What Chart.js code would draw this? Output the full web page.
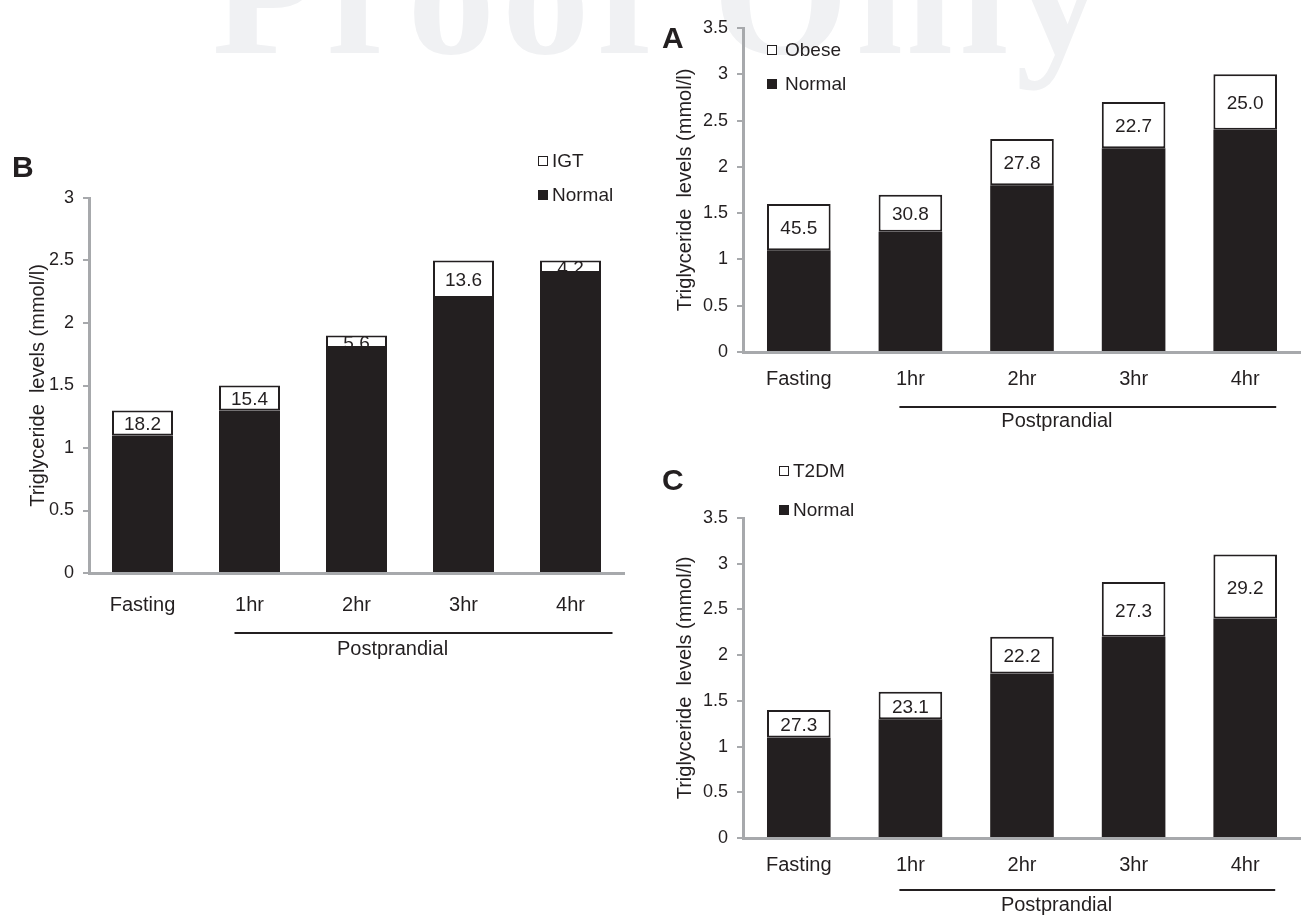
<!DOCTYPE html>
<html>
<head>
<meta charset="utf-8">
<script src="https://cdn.jsdelivr.net/npm/chart.js@4.4.1/dist/chart.umd.min.js"></script>
<style>
  html, body { margin: 0; padding: 0; background: #fff; }
  body {
    width: 1301px; height: 917px; position: relative; overflow: hidden;
    font-family: "Liberation Sans", Arial, sans-serif; color: #231f20;
  }
  .watermark {
    position: absolute; left: 212px; top: -93px;
    font-family: "Liberation Serif", "Times New Roman", serif; font-weight: bold;
    font-size: 175px; line-height: 1; letter-spacing: 7px;
    color: #f0f1f3; white-space: nowrap;
  }
  canvas { position: absolute; }
  .panel-letter { position: absolute; font-weight: bold; font-size: 30px; line-height: 30px; }
  .legend-row {
    position: absolute; display: flex; align-items: center;
    font-size: 19px; height: 22px; line-height: 22px; white-space: nowrap;
  }
  .sw { display: inline-block; width: 10px; height: 10px; box-sizing: border-box; }
  .sw.open { border: 1.5px solid #231f20; background: #fff; }
  .sw.fill { background: #231f20; }
</style>
</head>
<body>
<div class="watermark">Proof Only</div>

<canvas id="chartB" width="650" height="530" style="left:0;top:140px"></canvas>
<canvas id="chartA" width="651" height="440" style="left:650px;top:0"></canvas>
<canvas id="chartC" width="651" height="457" style="left:650px;top:460px"></canvas>

<div class="panel-letter" style="left:12px;top:152px">B</div>
<div class="panel-letter" style="left:662px;top:23px">A</div>
<div class="panel-letter" style="left:662px;top:465px">C</div>

<div class="legend-row" style="left:538px;top:150px"><span class="sw open"></span><span style="margin-left:4px">IGT</span></div>
<div class="legend-row" style="left:538px;top:184px"><span class="sw fill"></span><span style="margin-left:4px">Normal</span></div>

<div class="legend-row" style="left:767px;top:39px"><span class="sw open"></span><span style="margin-left:8px">Obese</span></div>
<div class="legend-row" style="left:767px;top:73px"><span class="sw fill"></span><span style="margin-left:8px">Normal</span></div>

<div class="legend-row" style="left:779px;top:460px"><span class="sw open"></span><span style="margin-left:4px">T2DM</span></div>
<div class="legend-row" style="left:779px;top:499px"><span class="sw fill"></span><span style="margin-left:4px">Normal</span></div>

<script>
// categories shared by all three panels
const categories = ['Fasting', '1hr', '2hr', '3hr', '4hr'];
const yTitle = 'Triglyceride  levels (mmol/l)';

// B - IGT vs normal
const yTicksB = [0, 0.5, 1, 1.5, 2, 2.5, 3];
const normalB = [1.1, 1.3, 1.8, 2.2, 2.4];
const igtExtraB = [0.2, 0.2, 0.1, 0.3, 0.1];
const igtPctB = ['18.2', '15.4', '5.6', '13.6', '4.2'];

// A - obese vs normal
const yTicksA = [0, 0.5, 1, 1.5, 2, 2.5, 3, 3.5];
const normalA = [1.1, 1.3, 1.8, 2.2, 2.4];
const obeseExtraA = [0.5, 0.4, 0.5, 0.5, 0.6];
const obesePctA = ['45.5', '30.8', '27.8', '22.7', '25.0'];

// C - T2DM vs normal
const yTicksC = [0, 0.5, 1, 1.5, 2, 2.5, 3, 3.5];
const normalC = [1.1, 1.3, 1.8, 2.2, 2.4];
const t2dmExtraC = [0.3, 0.3, 0.4, 0.6, 0.7];
const t2dmPctC = ['27.3', '23.1', '22.2', '27.3', '29.2'];

const INK = '#231f20';
const AXIS = '#a7a9ac';
const FONT = "'Liberation Sans', Arial, sans-serif";

// percent labels centred in the white segment, clipped to it
function segmentLabels(pcts) {
  return {
    id: 'segmentLabels',
    afterDatasetsDraw(chart) {
      const ctx = chart.ctx;
      const meta = chart.getDatasetMeta(1);
      ctx.save();
      ctx.font = '19px ' + FONT;
      ctx.fillStyle = INK;
      ctx.textAlign = 'center';
      ctx.textBaseline = 'middle';
      meta.data.forEach((bar, i) => {
        const p = bar.getProps(['x', 'y', 'base', 'width'], true);
        ctx.save();
        ctx.beginPath();
        ctx.rect(p.x - p.width / 2, p.y, p.width, p.base - p.y);
        ctx.clip();
        ctx.fillText(pcts[i], p.x, (p.y + p.base) / 2 + 2);
        ctx.restore();
      });
      ctx.restore();
    }
  };
}

// "Postprandial" bracket under 1hr..4hr
function postprandial(b) {
  return {
    id: 'postprandial',
    afterDraw(chart) {
      const ctx = chart.ctx;
      const xs = chart.scales.x;
      const x0 = xs.getPixelForValue(1) - b.padL;
      const x1 = xs.getPixelForValue(4) + b.padR;
      const y = chart.chartArea.bottom + b.dy;
      ctx.save();
      ctx.strokeStyle = INK;
      ctx.lineWidth = 2;
      ctx.beginPath();
      ctx.moveTo(x0, y);
      ctx.lineTo(x1, y);
      ctx.stroke();
      ctx.font = '20px ' + FONT;
      ctx.fillStyle = INK;
      ctx.textAlign = 'center';
      ctx.textBaseline = 'middle';
      ctx.fillText('Postprandial', x0 + (x1 - x0) * 0.418, y + b.textDy);
      ctx.restore();
    }
  };
}

function buildPanel(canvasId, p) {
  new Chart(document.getElementById(canvasId), {
    type: 'bar',
    data: {
      labels: categories,
      datasets: [
        {
          label: 'Normal', data: p.normal,
          backgroundColor: INK, borderWidth: 0,
          barPercentage: 0.57, categoryPercentage: 1
        },
        {
          label: p.group, data: p.extra,
          backgroundColor: '#fff', borderColor: INK, borderWidth: 2, borderSkipped: false,
          barPercentage: 0.57, categoryPercentage: 1
        }
      ]
    },
    options: {
      responsive: false,
      animation: false,
      events: [],
      layout: { padding: { left: 0, right: p.padRight, top: p.padTop, bottom: 0 } },
      plugins: { legend: { display: false }, tooltip: { enabled: false } },
      scales: {
        x: {
          stacked: true,
          grid: { display: false, drawTicks: false },
          border: { display: true, color: AXIS, width: 3 },
          ticks: { color: INK, font: { family: FONT, size: 20 }, padding: p.xPad, maxRotation: 0 },
          afterFit: s => { s.height = p.xHeight; }
        },
        y: {
          stacked: true,
          min: 0,
          max: p.yTicks[p.yTicks.length - 1],
          afterBuildTicks: s => { s.ticks = p.yTicks.map(v => ({ value: v })); },
          grid: { display: true, drawOnChartArea: false, drawTicks: true, tickLength: 6, color: AXIS, lineWidth: 2 },
          border: { display: true, color: AXIS, width: 3 },
          ticks: { color: INK, font: { family: FONT, size: 18 }, padding: 9, callback: v => String(v) },
          title: {
            display: true, text: yTitle, color: INK,
            font: { family: FONT, size: 20 },
            padding: { top: p.titlePad, bottom: 0 }
          },
          afterFit: s => { s.width = p.yWidth; }
        }
      }
    },
    plugins: [segmentLabels(p.pcts), postprandial(p.bracket)]
  });
}

buildPanel('chartB', {
  normal: normalB, extra: igtExtraB, pcts: igtPctB, group: 'IGT', yTicks: yTicksB,
  padTop: 58, padRight: 26, yWidth: 89, xHeight: 97, xPad: 20, titlePad: 26,
  bracket: { padL: 15, padR: 42, dy: 60, textDy: 16 }
});

buildPanel('chartA', {
  normal: normalA, extra: obeseExtraA, pcts: obesePctA, group: 'Obese', yTicks: yTicksA,
  padTop: 28, padRight: 0, yWidth: 93, xHeight: 88, xPad: 15, titlePad: 23,
  bracket: { padL: 11, padR: 31, dy: 55, textDy: 14 }
});

buildPanel('chartC', {
  normal: normalC, extra: t2dmExtraC, pcts: t2dmPctC, group: 'T2DM', yTicks: yTicksC,
  padTop: 58, padRight: 0, yWidth: 93, xHeight: 79, xPad: 15, titlePad: 23,
  bracket: { padL: 11, padR: 30, dy: 52, textDy: 15 }
});
</script>
</body>
</html>
